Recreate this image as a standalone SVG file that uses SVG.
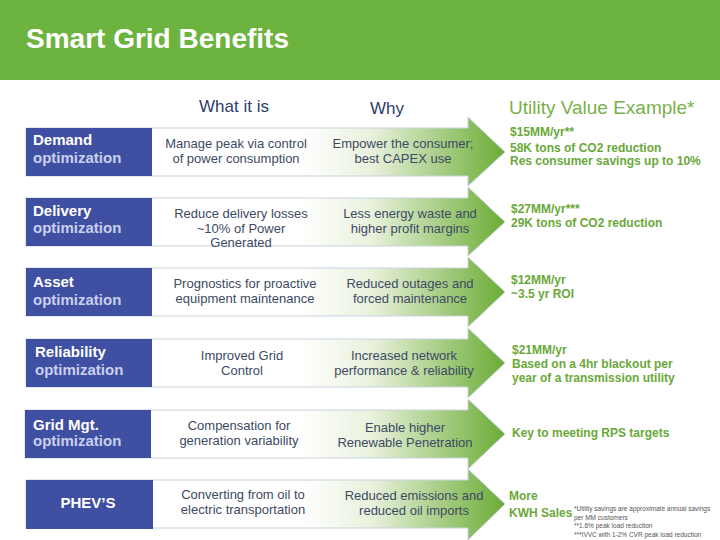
<svg xmlns="http://www.w3.org/2000/svg" width="720" height="540" viewBox="0 0 720 540">
<style>
.lbl{font-family:"Liberation Sans",Arial,sans-serif;font-weight:bold;font-size:15px;fill:#fff}
.lbl2{fill:#c9d0ee}
.txt{font-family:"Liberation Sans",Arial,sans-serif;font-size:13px;fill:#3d4a63;text-anchor:middle}
.val{font-family:"Liberation Sans",Arial,sans-serif;font-weight:bold;font-size:12px;fill:#6aa83a}
.hd{font-family:"Liberation Sans",Arial,sans-serif;font-size:17px;fill:#2e3d6b;text-anchor:middle}
.box{fill:#3f4fa2}
.arr{fill:url(#g);stroke:#c8d3df;stroke-width:1}
.fn{font-family:"Liberation Sans",Arial,sans-serif;font-size:6.5px;fill:#555}
</style>
<defs>
<linearGradient id="g" gradientUnits="userSpaceOnUse" x1="300" y1="0" x2="505" y2="0">
<stop offset="0" stop-color="#ffffff"/>
<stop offset="0.35" stop-color="#e9f1dc"/>
<stop offset="1" stop-color="#6aac35"/>
</linearGradient>
</defs>
<rect width="720" height="540" fill="#fff"/>
<rect width="720" height="80" fill="#6db33f"/>
<text x="26" y="48" font-family="Liberation Sans,Arial,sans-serif" font-weight="bold" font-size="28" fill="#fff">Smart Grid Benefits</text>
<text class="hd" x="234" y="112">What it is</text>
<text class="hd" x="387" y="114">Why</text>
<text x="509" y="114" font-family="Liberation Sans,Arial,sans-serif" font-size="19" fill="#7ab04a">Utility Value Example*</text>
<g id="connectors"></g>
<g id="row1">
<path class="arr" d="M26,128 H468 V117 L505,152 L468,186 V176 H26 Z"/>
<rect class="box" x="26" y="128" width="126" height="48"/>
<text class="lbl" x="33" y="145">Demand</text><text class="lbl lbl2" x="33" y="163">optimization</text>
<text class="txt" x="236" y="148">Manage peak via control</text><text class="txt" x="236" y="163">of power consumption</text>
<text class="txt" x="403" y="148">Empower the consumer;</text><text class="txt" x="403" y="163">best CAPEX use</text>
<text class="val" x="510" y="136">$15MM/yr**</text><text class="val" x="510" y="152">58K tons of CO2 reduction</text><text class="val" x="510" y="165">Res consumer savings up to 10%</text>
</g>
<g id="row2">
<path class="arr" d="M26,198 H468 V187 L505,222 L468,256 V246 H26 Z"/>
<rect class="box" x="26" y="198" width="126" height="48"/>
<text class="lbl" x="33" y="216">Delivery</text><text class="lbl lbl2" x="33" y="233">optimization</text>
<text class="txt" x="241" y="218">Reduce delivery losses</text><text class="txt" x="241" y="233">~10% of Power</text><text class="txt" x="241" y="247">Generated</text>
<text class="txt" x="410" y="218">Less energy waste and</text><text class="txt" x="410" y="233">higher profit margins</text>
<text class="val" x="511" y="213">$27MM/yr***</text><text class="val" x="511" y="227">29K tons of CO2 reduction</text>
</g>
<g id="row3">
<path class="arr" d="M26,268 H468 V257 L505,292 L468,327 V316 H26 Z"/>
<rect class="box" x="26" y="268" width="126" height="48"/>
<text class="lbl" x="33" y="287">Asset</text><text class="lbl lbl2" x="33" y="305">optimization</text>
<text class="txt" x="245" y="288">Prognostics for proactive</text><text class="txt" x="245" y="303">equipment maintenance</text>
<text class="txt" x="410" y="288">Reduced outages and</text><text class="txt" x="410" y="303">forced maintenance</text>
<text class="val" x="511" y="284">$12MM/yr</text><text class="val" x="511" y="298">~3.5 yr ROI</text>
</g>
<g id="row4">
<path class="arr" d="M26,339 H468 V328 L505,363 L468,398 V387 H26 Z"/>
<rect class="box" x="26" y="339" width="126" height="48"/>
<text class="lbl" x="35" y="357">Reliability</text><text class="lbl lbl2" x="35" y="375">optimization</text>
<text class="txt" x="242" y="360">Improved Grid</text><text class="txt" x="242" y="375">Control</text>
<text class="txt" x="404" y="360">Increased network</text><text class="txt" x="404" y="375">performance &amp; reliability</text>
<text class="val" x="512" y="354">$21MM/yr</text><text class="val" x="512" y="368">Based on a 4hr blackout per</text><text class="val" x="512" y="382">year of a  transmission utility</text>
</g>
<g id="row5">
<path class="arr" d="M25,410 H468 V399 L505,434 L468,469 V458 H25 Z"/>
<rect class="box" x="25" y="410" width="126" height="48"/>
<text class="lbl" x="33" y="430">Grid Mgt.</text><text class="lbl lbl2" x="33" y="446">optimization</text>
<text class="txt" x="239" y="430">Compensation for</text><text class="txt" x="239" y="445">generation variability</text>
<text class="txt" x="405" y="432">Enable higher</text><text class="txt" x="405" y="447">Renewable Penetration</text>
<text class="val" x="512" y="437">Key to meeting RPS targets</text>
</g>
<g id="row6">
<path class="arr" d="M26,480 H468 V469 L505,504 L468,540 V528 H26 Z"/>
<rect class="box" x="26" y="480" width="127" height="49"/>
<text class="lbl" x="88" y="508" text-anchor="middle">PHEV’S</text>
<text class="txt" x="243" y="499">Converting from oil to</text><text class="txt" x="243" y="514">electric transportation</text>
<text class="txt" x="414" y="500">Reduced  emissions and</text><text class="txt" x="414" y="515">reduced oil imports</text>
<text class="val" x="509" y="500">More</text><text class="val" x="509" y="517">KWH Sales</text>
<text class="fn" x="574" y="511">*Utility savings are approximate annual savings</text>
<text class="fn" x="574" y="520">per MM customers</text>
<text class="fn" x="574" y="528">**1.6% peak load reduction</text>
<text class="fn" x="574" y="537">***IVVC with 1-2% CVR peak load reduction</text>
</g>
</svg>
